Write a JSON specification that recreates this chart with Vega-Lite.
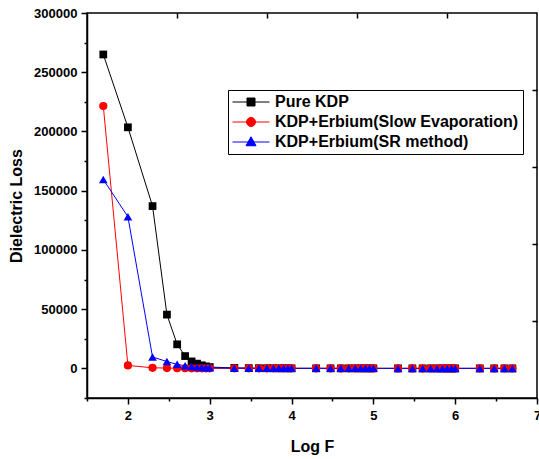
{
  "$schema": "https://vega.github.io/schema/vega-lite/v6.json",
  "width": 450,
  "height": 385,
  "autosize": {"type": "none"},
  "padding": {"left": 87, "top": 13, "right": 2, "bottom": 61},
  "config": {
    "view": {"stroke": "#000000", "strokeWidth": 1.5},
    "axis": {
      "labelFont": "Liberation Sans", "labelFontWeight": "bold", "labelFontSize": 13, "labelColor": "#000000",
      "titleFont": "Liberation Sans", "titleFontWeight": "bold", "titleFontSize": 16, "titleColor": "#000000",
      "domainColor": "#000000", "domainWidth": 1.5, "tickColor": "#000000", "tickWidth": 1.5, "grid": false
    },
    "legend": {"labelFont": "Liberation Sans", "labelFontWeight": "bold", "labelFontSize": 16, "labelColor": "#000000", "labelLimit": 400}
  },
  "data": {"values": [
    {"logF": 1.699, "loss": 265000, "sample": "Pure KDP"},
    {"logF": 2, "loss": 203500, "sample": "Pure KDP"},
    {"logF": 2.301, "loss": 137000, "sample": "Pure KDP"},
    {"logF": 2.477, "loss": 45400, "sample": "Pure KDP"},
    {"logF": 2.602, "loss": 20300, "sample": "Pure KDP"},
    {"logF": 2.699, "loss": 10400, "sample": "Pure KDP"},
    {"logF": 2.778, "loss": 5900, "sample": "Pure KDP"},
    {"logF": 2.845, "loss": 4000, "sample": "Pure KDP"},
    {"logF": 2.903, "loss": 2600, "sample": "Pure KDP"},
    {"logF": 2.954, "loss": 1700, "sample": "Pure KDP"},
    {"logF": 3, "loss": 1100, "sample": "Pure KDP"},
    {"logF": 3.301, "loss": 400, "sample": "Pure KDP"},
    {"logF": 3.477, "loss": 220, "sample": "Pure KDP"},
    {"logF": 3.602, "loss": 150, "sample": "Pure KDP"},
    {"logF": 3.699, "loss": 110, "sample": "Pure KDP"},
    {"logF": 3.778, "loss": 90, "sample": "Pure KDP"},
    {"logF": 3.845, "loss": 70, "sample": "Pure KDP"},
    {"logF": 3.903, "loss": 60, "sample": "Pure KDP"},
    {"logF": 3.954, "loss": 50, "sample": "Pure KDP"},
    {"logF": 4, "loss": 45, "sample": "Pure KDP"},
    {"logF": 4.301, "loss": 30, "sample": "Pure KDP"},
    {"logF": 4.477, "loss": 25, "sample": "Pure KDP"},
    {"logF": 4.602, "loss": 20, "sample": "Pure KDP"},
    {"logF": 4.699, "loss": 18, "sample": "Pure KDP"},
    {"logF": 4.778, "loss": 16, "sample": "Pure KDP"},
    {"logF": 4.845, "loss": 15, "sample": "Pure KDP"},
    {"logF": 4.903, "loss": 14, "sample": "Pure KDP"},
    {"logF": 4.954, "loss": 13, "sample": "Pure KDP"},
    {"logF": 5, "loss": 12, "sample": "Pure KDP"},
    {"logF": 5.301, "loss": 10, "sample": "Pure KDP"},
    {"logF": 5.477, "loss": 9, "sample": "Pure KDP"},
    {"logF": 5.602, "loss": 8, "sample": "Pure KDP"},
    {"logF": 5.699, "loss": 8, "sample": "Pure KDP"},
    {"logF": 5.778, "loss": 7, "sample": "Pure KDP"},
    {"logF": 5.845, "loss": 7, "sample": "Pure KDP"},
    {"logF": 5.903, "loss": 6, "sample": "Pure KDP"},
    {"logF": 5.954, "loss": 6, "sample": "Pure KDP"},
    {"logF": 6, "loss": 6, "sample": "Pure KDP"},
    {"logF": 6.301, "loss": 5, "sample": "Pure KDP"},
    {"logF": 6.477, "loss": 5, "sample": "Pure KDP"},
    {"logF": 6.602, "loss": 4, "sample": "Pure KDP"},
    {"logF": 6.699, "loss": 4, "sample": "Pure KDP"},
    {"logF": 1.699, "loss": 221500, "sample": "KDP+Erbium(Slow Evaporation)"},
    {"logF": 2, "loss": 2500, "sample": "KDP+Erbium(Slow Evaporation)"},
    {"logF": 2.301, "loss": 500, "sample": "KDP+Erbium(Slow Evaporation)"},
    {"logF": 2.477, "loss": 250, "sample": "KDP+Erbium(Slow Evaporation)"},
    {"logF": 2.602, "loss": 150, "sample": "KDP+Erbium(Slow Evaporation)"},
    {"logF": 2.699, "loss": 110, "sample": "KDP+Erbium(Slow Evaporation)"},
    {"logF": 2.778, "loss": 90, "sample": "KDP+Erbium(Slow Evaporation)"},
    {"logF": 2.845, "loss": 70, "sample": "KDP+Erbium(Slow Evaporation)"},
    {"logF": 2.903, "loss": 60, "sample": "KDP+Erbium(Slow Evaporation)"},
    {"logF": 2.954, "loss": 50, "sample": "KDP+Erbium(Slow Evaporation)"},
    {"logF": 3, "loss": 45, "sample": "KDP+Erbium(Slow Evaporation)"},
    {"logF": 3.301, "loss": 30, "sample": "KDP+Erbium(Slow Evaporation)"},
    {"logF": 3.477, "loss": 25, "sample": "KDP+Erbium(Slow Evaporation)"},
    {"logF": 3.602, "loss": 20, "sample": "KDP+Erbium(Slow Evaporation)"},
    {"logF": 3.699, "loss": 18, "sample": "KDP+Erbium(Slow Evaporation)"},
    {"logF": 3.778, "loss": 16, "sample": "KDP+Erbium(Slow Evaporation)"},
    {"logF": 3.845, "loss": 15, "sample": "KDP+Erbium(Slow Evaporation)"},
    {"logF": 3.903, "loss": 14, "sample": "KDP+Erbium(Slow Evaporation)"},
    {"logF": 3.954, "loss": 13, "sample": "KDP+Erbium(Slow Evaporation)"},
    {"logF": 4, "loss": 12, "sample": "KDP+Erbium(Slow Evaporation)"},
    {"logF": 4.301, "loss": 10, "sample": "KDP+Erbium(Slow Evaporation)"},
    {"logF": 4.477, "loss": 9, "sample": "KDP+Erbium(Slow Evaporation)"},
    {"logF": 4.602, "loss": 8, "sample": "KDP+Erbium(Slow Evaporation)"},
    {"logF": 4.699, "loss": 8, "sample": "KDP+Erbium(Slow Evaporation)"},
    {"logF": 4.778, "loss": 7, "sample": "KDP+Erbium(Slow Evaporation)"},
    {"logF": 4.845, "loss": 7, "sample": "KDP+Erbium(Slow Evaporation)"},
    {"logF": 4.903, "loss": 6, "sample": "KDP+Erbium(Slow Evaporation)"},
    {"logF": 4.954, "loss": 6, "sample": "KDP+Erbium(Slow Evaporation)"},
    {"logF": 5, "loss": 6, "sample": "KDP+Erbium(Slow Evaporation)"},
    {"logF": 5.301, "loss": 5, "sample": "KDP+Erbium(Slow Evaporation)"},
    {"logF": 5.477, "loss": 5, "sample": "KDP+Erbium(Slow Evaporation)"},
    {"logF": 5.602, "loss": 4, "sample": "KDP+Erbium(Slow Evaporation)"},
    {"logF": 5.699, "loss": 4, "sample": "KDP+Erbium(Slow Evaporation)"},
    {"logF": 5.778, "loss": 4, "sample": "KDP+Erbium(Slow Evaporation)"},
    {"logF": 5.845, "loss": 3, "sample": "KDP+Erbium(Slow Evaporation)"},
    {"logF": 5.903, "loss": 3, "sample": "KDP+Erbium(Slow Evaporation)"},
    {"logF": 5.954, "loss": 3, "sample": "KDP+Erbium(Slow Evaporation)"},
    {"logF": 6, "loss": 3, "sample": "KDP+Erbium(Slow Evaporation)"},
    {"logF": 6.301, "loss": 2, "sample": "KDP+Erbium(Slow Evaporation)"},
    {"logF": 6.477, "loss": 2, "sample": "KDP+Erbium(Slow Evaporation)"},
    {"logF": 6.602, "loss": 2, "sample": "KDP+Erbium(Slow Evaporation)"},
    {"logF": 6.699, "loss": 2, "sample": "KDP+Erbium(Slow Evaporation)"},
    {"logF": 1.699, "loss": 159500, "sample": "KDP+Erbium(SR method)"},
    {"logF": 2, "loss": 128000, "sample": "KDP+Erbium(SR method)"},
    {"logF": 2.301, "loss": 9600, "sample": "KDP+Erbium(SR method)"},
    {"logF": 2.477, "loss": 5800, "sample": "KDP+Erbium(SR method)"},
    {"logF": 2.602, "loss": 3400, "sample": "KDP+Erbium(SR method)"},
    {"logF": 2.699, "loss": 2200, "sample": "KDP+Erbium(SR method)"},
    {"logF": 2.778, "loss": 1500, "sample": "KDP+Erbium(SR method)"},
    {"logF": 2.845, "loss": 1100, "sample": "KDP+Erbium(SR method)"},
    {"logF": 2.903, "loss": 800, "sample": "KDP+Erbium(SR method)"},
    {"logF": 2.954, "loss": 600, "sample": "KDP+Erbium(SR method)"},
    {"logF": 3, "loss": 500, "sample": "KDP+Erbium(SR method)"},
    {"logF": 3.301, "loss": 200, "sample": "KDP+Erbium(SR method)"},
    {"logF": 3.477, "loss": 120, "sample": "KDP+Erbium(SR method)"},
    {"logF": 3.602, "loss": 90, "sample": "KDP+Erbium(SR method)"},
    {"logF": 3.699, "loss": 70, "sample": "KDP+Erbium(SR method)"},
    {"logF": 3.778, "loss": 60, "sample": "KDP+Erbium(SR method)"},
    {"logF": 3.845, "loss": 50, "sample": "KDP+Erbium(SR method)"},
    {"logF": 3.903, "loss": 45, "sample": "KDP+Erbium(SR method)"},
    {"logF": 3.954, "loss": 40, "sample": "KDP+Erbium(SR method)"},
    {"logF": 4, "loss": 35, "sample": "KDP+Erbium(SR method)"},
    {"logF": 4.301, "loss": 25, "sample": "KDP+Erbium(SR method)"},
    {"logF": 4.477, "loss": 20, "sample": "KDP+Erbium(SR method)"},
    {"logF": 4.602, "loss": 18, "sample": "KDP+Erbium(SR method)"},
    {"logF": 4.699, "loss": 16, "sample": "KDP+Erbium(SR method)"},
    {"logF": 4.778, "loss": 14, "sample": "KDP+Erbium(SR method)"},
    {"logF": 4.845, "loss": 13, "sample": "KDP+Erbium(SR method)"},
    {"logF": 4.903, "loss": 12, "sample": "KDP+Erbium(SR method)"},
    {"logF": 4.954, "loss": 11, "sample": "KDP+Erbium(SR method)"},
    {"logF": 5, "loss": 10, "sample": "KDP+Erbium(SR method)"},
    {"logF": 5.301, "loss": 8, "sample": "KDP+Erbium(SR method)"},
    {"logF": 5.477, "loss": 7, "sample": "KDP+Erbium(SR method)"},
    {"logF": 5.602, "loss": 6, "sample": "KDP+Erbium(SR method)"},
    {"logF": 5.699, "loss": 6, "sample": "KDP+Erbium(SR method)"},
    {"logF": 5.778, "loss": 5, "sample": "KDP+Erbium(SR method)"},
    {"logF": 5.845, "loss": 5, "sample": "KDP+Erbium(SR method)"},
    {"logF": 5.903, "loss": 5, "sample": "KDP+Erbium(SR method)"},
    {"logF": 5.954, "loss": 4, "sample": "KDP+Erbium(SR method)"},
    {"logF": 6, "loss": 4, "sample": "KDP+Erbium(SR method)"},
    {"logF": 6.301, "loss": 3, "sample": "KDP+Erbium(SR method)"},
    {"logF": 6.477, "loss": 3, "sample": "KDP+Erbium(SR method)"},
    {"logF": 6.602, "loss": 3, "sample": "KDP+Erbium(SR method)"},
    {"logF": 6.699, "loss": 3, "sample": "KDP+Erbium(SR method)"}
  ]},
  "layer": [
    {
      "mark": {"type": "line", "strokeWidth": 1, "clip": true},
      "encoding": {
        "x": {"field": "logF", "type": "quantitative",
          "scale": {"domain": [1.5, 7], "nice": false, "zero": false},
          "axis": {"orient": "bottom", "title": "Log F", "titlePadding": 16,
            "values": [1.5, 2, 2.5, 3, 3.5, 4, 4.5, 5, 5.5, 6, 6.5, 7],
            "labelExpr": "datum.value % 1 === 0 ? format(datum.value, 'd') : ''",
            "labelPadding": 5, "labelFlush": false, "labelOverlap": false,
            "tickSize": {"condition": {"test": "datum.value % 1 === 0", "value": 6}, "value": 3}}},
        "y": {"field": "loss", "type": "quantitative",
          "scale": {"domain": [-25000, 300000], "nice": false, "zero": false},
          "axis": {"orient": "left", "title": "Dielectric Loss", "titlePadding": 9,
            "values": [-25000, 0, 25000, 50000, 75000, 100000, 125000, 150000, 175000, 200000, 225000, 250000, 275000, 300000],
            "labelExpr": "datum.value % 50000 === 0 ? format(datum.value, 'd') : ''",
            "labelPadding": 4, "labelFlush": false, "labelOverlap": false,
            "tickSize": {"condition": {"test": "datum.value % 50000 === 0", "value": 6}, "value": 3}}},
        "color": {"field": "sample", "type": "nominal",
          "scale": {"domain": ["Pure KDP", "KDP+Erbium(Slow Evaporation)", "KDP+Erbium(SR method)"], "range": ["#000000", "#ff0000", "#0000ff"]},
          "legend": {"title": null, "orient": "none", "legendX": 141, "legendY": 77,
            "strokeColor": "#000000", "fillColor": "#ffffff", "padding": 4, "rowPadding": 4,
            "symbolSize": 100, "symbolOffset": 11, "labelOffset": 16, "symbolStrokeWidth": 1,
            "encode": {"symbols": {"update": {
              "shape": {"signal": "datum.value === 'Pure KDP' ? 'M-3.7,0H3.7M-0.8,-0.8H0.8V0.8H-0.8Z' : datum.value === 'KDP+Erbium(SR method)' ? 'M-3.7,0H3.7M0,-1.05L1.0,0.75H-1.0Z' : 'M-3.7,0H3.7M0.9,0A0.9,0.9 0 1 1 -0.9,0A0.9,0.9 0 1 1 0.9,0Z'"},
              "fill": {"signal": "datum.value === 'Pure KDP' ? '#000000' : datum.value === 'KDP+Erbium(SR method)' ? '#0000ff' : '#ff0000'"},
              "stroke": {"signal": "datum.value === 'Pure KDP' ? '#000000' : datum.value === 'KDP+Erbium(SR method)' ? '#0000ff' : '#ff0000'"},
              "strokeWidth": {"value": 1},
              "opacity": {"value": 1}
            }}}}}
      }
    },
    {
      "mark": {"type": "point", "filled": true, "opacity": 1, "clip": true},
      "encoding": {
        "x": {"field": "logF", "type": "quantitative",
          "axis": {"orient": "top", "title": null, "labels": false, "values": [2.6, 3.7, 4.8, 5.9], "tickSize": 5, "offset": -5, "domain": false}},
        "y": {"field": "loss", "type": "quantitative",
          "axis": {"orient": "right", "title": null, "labels": false, "values": [40000, 105000, 170000, 235000], "tickSize": 5, "offset": -5, "domain": false}},
        "color": {"field": "sample", "type": "nominal", "legend": null},
        "shape": {"field": "sample", "type": "nominal", "legend": null,
          "scale": {"domain": ["Pure KDP", "KDP+Erbium(Slow Evaporation)", "KDP+Erbium(SR method)"], "range": ["square", "circle", "triangle-up"]}},
        "size": {"field": "sample", "type": "nominal", "legend": null,
          "scale": {"domain": ["Pure KDP", "KDP+Erbium(Slow Evaporation)", "KDP+Erbium(SR method)"], "range": [60, 75, 90]}}
      }
    }
  ],
  "resolve": {
    "axis": {"x": "independent", "y": "independent"},
    "legend": {"color": "independent", "shape": "independent", "size": "independent"}
  }
}
